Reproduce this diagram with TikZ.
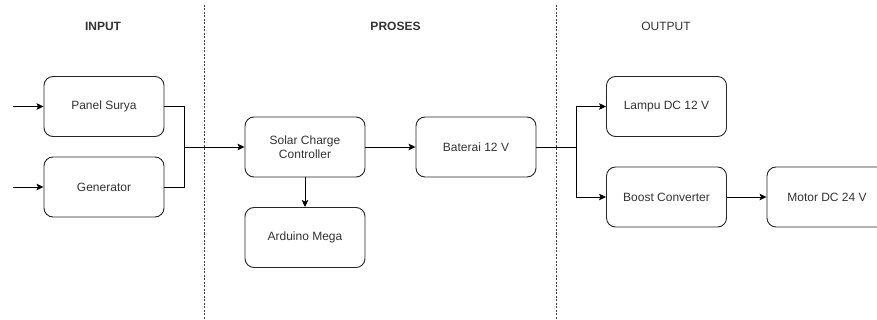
\documentclass[tikz,border=0pt]{standalone}
\usepackage{fontspec}
\setmainfont{Liberation Sans}
\usetikzlibrary{arrows.meta}
\definecolor{txt}{HTML}{333333}
\tikzset{
  blk/.style={draw=black!85, line width=0.9pt, rounded corners=9pt, minimum width=120pt, minimum height=60pt, inner sep=0pt, align=center, text=txt, font=\fontsize{12}{14}\selectfont},
  hdr/.style={text=txt, font=\fontsize{12}{14}\selectfont, inner sep=0pt},
  conn/.style={line width=0.9pt, draw=black},
  arr/.style={conn, -{Stealth[length=7pt,width=6.5pt,inset=1.5pt]}},
  sep/.style={line width=0.8pt, draw=black!75, dash pattern=on 2pt off 1.5pt}
}
\begin{document}
\begin{tikzpicture}[x=1pt,y=-1pt]
\useasboundingbox (0,0) rectangle (877,320);
\clip (0,0) rectangle (877,320);
\fill[white] (0,0) rectangle (877,320);
% separators
\coordinate (s1t) at (204,5); \coordinate (s1b) at (204,320);
\coordinate (s2t) at (556,5); \coordinate (s2b) at (556,320);
\draw[sep] (s1t) -- (s1b);
\draw[sep] (s2t) -- (s2b);
% headers
\node[hdr, font=\fontsize{12}{14}\selectfont\bfseries] (hin) at (103,26) {INPUT};
\node[hdr, font=\fontsize{12}{14}\selectfont\bfseries] (hpr) at (395.5,26) {PROSES};
\node[hdr] (hout) at (666,26) {OUTPUT};
% blocks
\node[blk] (ps) at (104,106.5) {Panel Surya};
\node[blk] (gen) at (104,187) {Generator};
\node[blk] (scc) at (305,147) {Solar Charge\\Controller};
\node[blk] (bat) at (476,147) {Baterai 12 V};
\node[blk] (ard) at (305,237.5) {Arduino Mega};
\node[blk] (lamp) at (666.5,106.5) {Lampu DC 12 V};
\node[blk] (boost) at (666.5,197) {Boost Converter};
\node[blk] (motor) at (827,197) {Motor DC 24 V};
% connectors
\coordinate (in1) at (13,106.5);
\coordinate (in2) at (13,187);
\draw[arr] (in1) -- (ps.west);
\draw[arr] (in2) -- (gen.west);
\coordinate (m1) at (184,147);
\draw[conn] (ps.east) -| (m1);
\draw[conn] (gen.east) -| (m1);
\draw[arr] (m1) -- (scc.west);
\draw[arr] (scc.south) -- (ard.north);
\draw[arr] (scc.east) -- (bat.west);
\coordinate (m2) at (576,147);
\draw[conn] (bat.east) -- (m2);
\draw[arr] (m2) |- (lamp.west);
\draw[arr] (m2) |- (boost.west);
\draw[arr] (boost.east) -- (motor.west);
\end{tikzpicture}
\end{document}
